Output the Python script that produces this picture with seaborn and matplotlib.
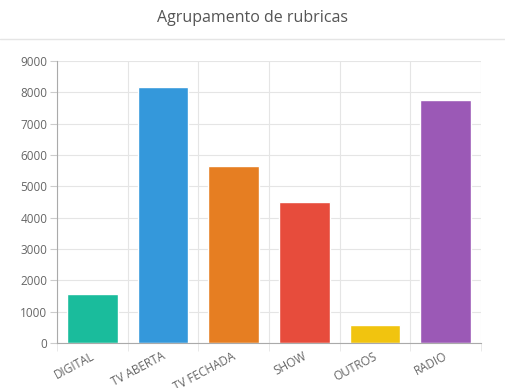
import matplotlib
matplotlib.use('Agg')
import matplotlib.pyplot as plt
from matplotlib.lines import Line2D
from matplotlib.ticker import FixedLocator
from matplotlib.transforms import ScaledTranslation
import seaborn as sns
import pandas as pd

categories = ['DIGITAL', 'TV ABERTA', 'TV FECHADA', 'SHOW', 'OUTROS', 'RADIO']
values = [1550, 8170, 5660, 4510, 560, 7740]
colors = ['#1ABC9C', '#3498DB', '#E67E22', '#E74C3C', '#F1C40F', '#9B59B6']

df = pd.DataFrame({'categoria': categories, 'valor': values})

sns.set_style('white')
plt.rcParams['font.family'] = ['Open Sans', 'DejaVu Sans']

fig = plt.figure(figsize=(5.05, 3.88), dpi=100)
ax = fig.add_axes([57 / 505, 45 / 388, 424 / 505, 282 / 388])

sns.barplot(data=df, x='categoria', y='valor', hue='categoria', palette=colors,
            legend=False, width=0.72, saturation=1, ax=ax)

ax.set_ylim(0, 9000)
ax.set_yticks(range(0, 9001, 1000))
ax.set_xlim(-0.5, len(categories) - 0.5)
ax.xaxis.set_minor_locator(FixedLocator([i - 0.5 for i in range(len(categories) + 1)]))
ax.grid(axis='y', color='#e5e5e5', linewidth=0.8)
ax.grid(axis='x', which='minor', color='#e5e5e5', linewidth=0.8)
ax.set_axisbelow(True)

for side in ['top', 'right']:
    ax.spines[side].set_visible(False)
for side in ['left', 'bottom']:
    ax.spines[side].set_color('#aaaaaa')
    ax.spines[side].set_linewidth(0.8)

ax.tick_params(axis='y', left=True, length=5, color='#cccccc', labelsize=8.5, labelcolor='#666666', pad=2)
ax.tick_params(axis='x', which='major', bottom=False, length=0, labelsize=8.5, labelcolor='#666666', pad=5)
ax.tick_params(axis='x', which='minor', bottom=True, length=6, color='#e5e5e5')
shift = ScaledTranslation(-2 / 100, 0, fig.dpi_scale_trans)
for lbl in ax.get_xticklabels():
    lbl.set_rotation(28)
    lbl.set_ha('right')
    lbl.set_rotation_mode('anchor')
    lbl.set_transform(lbl.get_transform() + shift)
ax.set_xlabel('')
ax.set_ylabel('')

fig.text(0.5, 1 - 18 / 388, 'Agrupamento de rubricas', ha='center', va='center',
         fontsize=11.5, color='#555555')
fig.add_artist(Line2D([0, 1], [1 - 39 / 388, 1 - 39 / 388], color='#e5e5e5', linewidth=1))

fig.savefig('out.png', dpi=100)
